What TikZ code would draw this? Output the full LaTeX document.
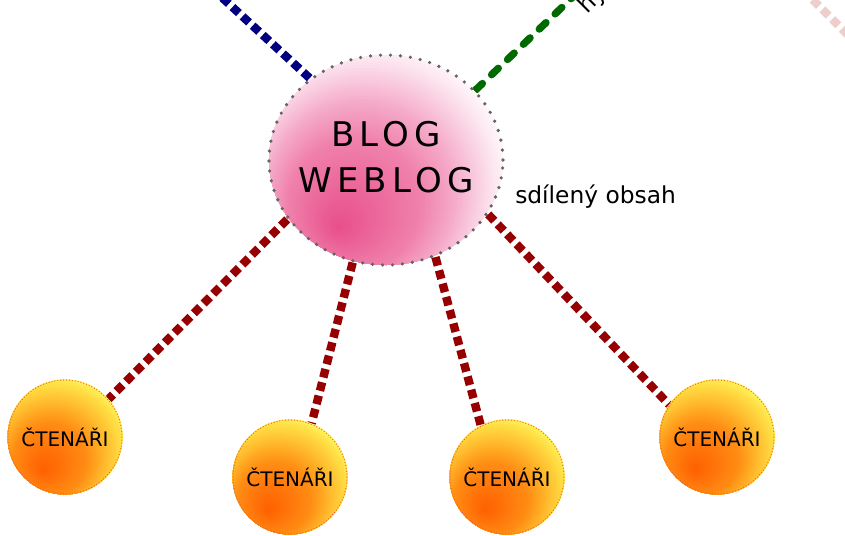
\documentclass[tikz,border=0pt]{standalone}
\usepackage{fontspec}
\setmainfont{DejaVu Sans}
\usetikzlibrary{shapes.geometric}
\definecolor{navyline}{RGB}{0,0,128}
\definecolor{greenline}{RGB}{0,105,0}
\definecolor{redline}{RGB}{150,0,0}
\definecolor{pinkline}{RGB}{238,205,205}
\definecolor{graydot}{RGB}{100,100,100}
\definecolor{orangedot}{RGB}{245,100,30}
\definecolor{pkA}{RGB}{232,78,138}
\definecolor{pkB}{RGB}{240,130,172}
\definecolor{pkC}{RGB}{245,172,202}
\definecolor{pkD}{RGB}{252,225,236}
\definecolor{pkE}{RGB}{255,250,252}
\definecolor{orA}{RGB}{255,95,0}
\definecolor{orB}{RGB}{255,140,20}
\definecolor{orC}{RGB}{255,170,35}
\definecolor{orD}{RGB}{255,222,68}
\definecolor{orE}{RGB}{255,245,95}
\definecolor{orF}{RGB}{255,250,105}
\newcommand\pinkmix[1]{%
 \ifdim#1pt<0.34pt \pgfmathsetmacro\mixp{100*#1/0.34}\colorlet{shadetmp}{pkB!\mixp!pkA}%
 \else\ifdim#1pt<0.48pt \pgfmathsetmacro\mixp{100*(#1-0.34)/0.14}\colorlet{shadetmp}{pkC!\mixp!pkB}%
 \else\ifdim#1pt<0.62pt \pgfmathsetmacro\mixp{100*(#1-0.48)/0.14}\colorlet{shadetmp}{pkD!\mixp!pkC}%
 \else\ifdim#1pt<0.70pt \pgfmathsetmacro\mixp{100*(#1-0.62)/0.08}\colorlet{shadetmp}{pkE!\mixp!pkD}%
 \else\colorlet{shadetmp}{pkE}\fi\fi\fi\fi}
\newcommand\orangemix[1]{%
 \ifdim#1pt<0.31pt \pgfmathsetmacro\mixp{100*#1/0.31}\colorlet{shadetmp}{orB!\mixp!orA}%
 \else\ifdim#1pt<0.40pt \pgfmathsetmacro\mixp{100*(#1-0.31)/0.09}\colorlet{shadetmp}{orC!\mixp!orB}%
 \else\ifdim#1pt<0.56pt \pgfmathsetmacro\mixp{100*(#1-0.40)/0.16}\colorlet{shadetmp}{orD!\mixp!orC}%
 \else\ifdim#1pt<0.62pt \pgfmathsetmacro\mixp{100*(#1-0.56)/0.06}\colorlet{shadetmp}{orE!\mixp!orD}%
 \else\ifdim#1pt<0.70pt \pgfmathsetmacro\mixp{100*(#1-0.62)/0.08}\colorlet{shadetmp}{orF!\mixp!orE}%
 \else\colorlet{shadetmp}{orF}\fi\fi\fi\fi\fi}
\newcommand\readerball[2]{%
 \begin{scope}
 \clip (#1,#2) circle[radius=57.5];
 \foreach \i in {50,49,...,0}{%
   \pgfmathsetmacro\tval{\i/50*0.7}%
   \orangemix{\tval}%
   \fill[shadetmp] ({#1-22+22*\tval},{#2+33-33*\tval}) circle[radius={120*\tval}];
 }
 \end{scope}}
\pgfdeclarelayer{lines}
\pgfdeclarelayer{shades}
\pgfsetlayers{lines,shades,main}
\tikzset{
  mainblob/.style={ellipse, minimum width=175.5pt, minimum height=157.5pt, inner sep=0pt,
    draw=graydot, line width=2.7pt, dash pattern=on 0pt off 7.5pt, line cap=round,
    font=\fontsize{25.5}{34.5}\selectfont\addfontfeature{LetterSpace=15}},
  reader/.style={circle, minimum size=85.5pt, inner sep=0pt,
    draw=orangedot, line width=1pt, dash pattern=on 0pt off 2.2pt, line cap=round,
    font=\fontsize{15}{18}\selectfont},
  plainlabel/.style={font=\fontsize{17.5}{20}\selectfont, inner sep=0pt},
  dotline/.style={line width=6.3pt, line cap=butt, line join=round, dash pattern=on 6.6pt off 3.7pt},
  bluedot/.style={dotline, draw=navyline},
  reddot/.style={dotline, draw=redline},
  pinkdot/.style={dotline, draw=pinkline},
  greendash/.style={draw=greenline, line width=5.5pt, line cap=round, dash pattern=on 7pt off 9.5pt}
}
\begin{document}
\begin{tikzpicture}[x=0.75pt, y=-0.75pt]
\useasboundingbox (0,0) rectangle (845,535);
\node[mainblob] (blog) at (386,160) {\makebox[0pt]{\raisebox{1.5pt}{\begin{tabular}{@{}c@{}}BLOG\\WEBLOG\end{tabular}}}};
\node[reader] (r1) at (65,437) {ČTENÁŘI};
\node[reader] (r2) at (290,477) {ČTENÁŘI};
\node[reader] (r3) at (507,477) {ČTENÁŘI};
\node[reader] (r4) at (717,437) {ČTENÁŘI};
\node[plainlabel, anchor=base west] (shared) at (515,203) {sdílený obsah};
\node[plainlabel, anchor=base west, rotate=45] (hyper) at (587,15) {hy};
\coordinate (bluefree) at (216,-8);
\coordinate (greenfree) at (578,-8);
\coordinate (pinka) at (803,-10);
\coordinate (pinkb) at (855,42);
\begin{pgfonlayer}{shades}
\begin{scope}
\clip (386,160) ellipse [x radius=117, y radius=105];
\fill[pkE] (386,160) ellipse [x radius=118, y radius=106];
\foreach \i in {64,63,...,0}{%
  \pgfmathsetmacro\tval{\i/64*0.75}%
  \pinkmix{\tval}%
  \fill[shadetmp] ({338+48*\tval},{228-68*\tval}) circle[radius={200*\tval}];
}
\end{scope}
\readerball{65}{437}
\readerball{290}{477}
\readerball{507}{477}
\readerball{717}{437}
\end{pgfonlayer}
\begin{pgfonlayer}{lines}
\draw[reddot] (blog.211) -- (r1.41);
\draw[reddot] (blog.252) -- (r2.68);
\draw[reddot] (blog.297) -- (r3.117);
\draw[reddot] (blog.332) -- (r4.146);
\draw[bluedot] (blog.133) -- (bluefree);
\draw[greendash] (blog.38) -- (greenfree);
\draw[pinkdot] (pinka) -- (pinkb);
\end{pgfonlayer}
\end{tikzpicture}
\end{document}
